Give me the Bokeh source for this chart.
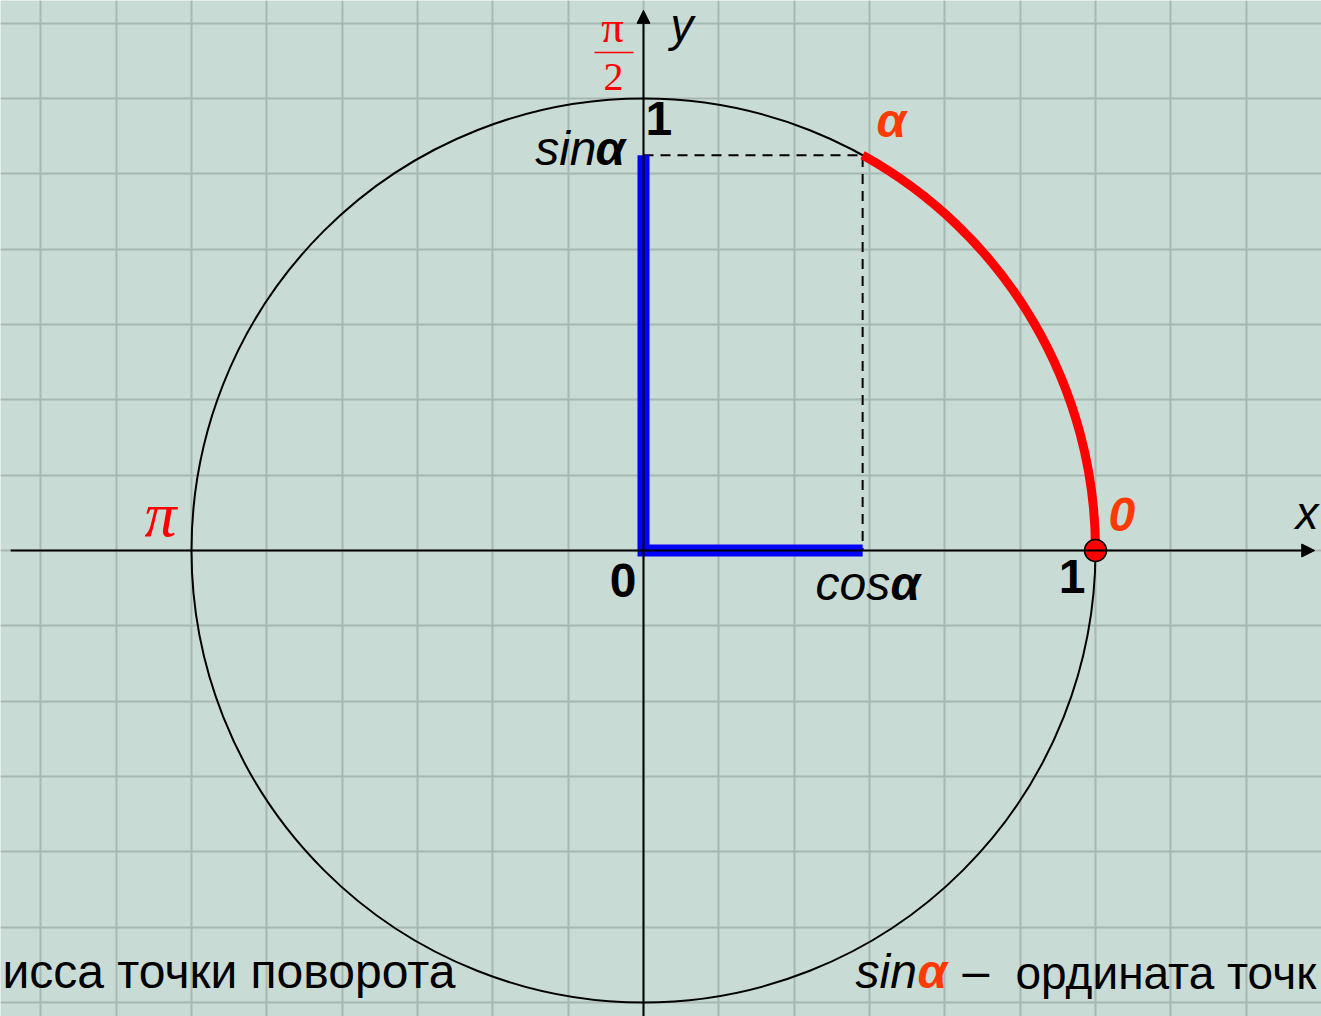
import numpy as np
from bokeh.plotting import figure
from bokeh.models import Range1d, Grid, FixedTicker, Arrow, NormalHead
from bokeh.core.properties import value
from bokeh.embed import file_html
from bokeh.resources import INLINE

# ---- data ----
ALPHA_DEG = 61.0          # angle of the rotation point
RADIUS = 1.0              # unit circle
GRID_STEP = 1 / 6         # grid cell in units of the radius
GRID_TICKS = [k * GRID_STEP for k in range(-9, 10)]
AXIS_X = [-1.400, 1.485]  # extent of the x axis (arrow at the right end)
AXIS_Y = [-1.10, 1.195]   # extent of the y axis (arrow at the top end)

alpha = np.deg2rad(ALPHA_DEG)
cos_a = RADIUS * np.cos(alpha)
sin_a = RADIUS * np.sin(alpha)

# ---- layout ----
W, H = 1321, 1016
PX = 452.0                # pixels per unit
OX, OY = 643, 550         # origin in figure pixels (from left / from top)

BG = "#c9dbd5"
GRID_COLOR = "#a7b8b3"
RED = "#ff0000"
ORANGE = "#ff3a00"
BLUE = "#0000ff"
SANS = "Liberation Sans"
SERIF = "Liberation Serif"

p = figure(width=W, height=H, output_backend="svg", toolbar_location=None,
           x_axis_type=None, y_axis_type=None,
           x_range=Range1d(-OX / PX, (W - OX) / PX),
           y_range=Range1d(-(H - OY) / PX, OY / PX),
           min_border=0, outline_line_color=None,
           background_fill_color=BG, border_fill_color=BG)

for dim in (0, 1):
    p.add_layout(Grid(dimension=dim, ticker=FixedTicker(ticks=GRID_TICKS),
                      grid_line_color=GRID_COLOR, grid_line_width=2))

# axes with arrows
p.add_layout(Arrow(x_start=AXIS_X[0], y_start=0, x_end=AXIS_X[1], y_end=0,
                   line_color="black", line_width=2,
                   end=NormalHead(size=13, fill_color="black", line_color="black")))
p.add_layout(Arrow(x_start=0, y_start=AXIS_Y[0], x_end=0, y_end=AXIS_Y[1],
                   line_color="black", line_width=2,
                   end=NormalHead(size=13, fill_color="black", line_color="black")))

# unit circle
p.circle(x=[0], y=[0], radius=RADIUS, fill_color=None, line_color="black", line_width=2)

# dashed projections
p.line(x=[0, cos_a, cos_a], y=[sin_a, sin_a, 0], line_color="black",
       line_width=2, line_dash="10 7")

# blue segments (cos and sin)
p.line(x=[0, 0, cos_a], y=[sin_a, 0, 0], line_color=BLUE, line_width=12,
       line_join="miter", line_cap="butt")

# red arc from 0 to alpha
p.arc(x=[0], y=[0], radius=RADIUS, start_angle=0, end_angle=alpha,
      line_color=RED, line_width=9)

# starting point
p.scatter(x=[RADIUS], y=[0], size=22, fill_color=RED, line_color="black", line_width=1.5)

MID = 0.346  # em distance from the alphabetic baseline to the text middle


def label(txt, rx, ry, size, style="normal", color="black", align="left", font=SANS):
    """rx, ry: pixel position of the baseline relative to the origin (right / up)."""
    p.text(x=[rx / PX], y=[(ry + MID * size) / PX], text=[txt], text_font=value(font),
           text_font_size=f"{size}px", text_font_style=style, text_color=color,
           text_align=align, text_baseline="middle")


# axis names
label("y", 27, 510, 46, "italic")
label("x", 652, 22, 46, "italic")

# pi/2 at top
label("π", -31, 508, 45, "normal", RED, "center", SERIF)
p.line(x=[-49 / PX, -10 / PX], y=[498 / PX, 498 / PX], line_color=RED, line_width=1.6)
label("2", -30, 460, 40, "normal", RED, "center", SERIF)

# pi on the left
label("π", -483, 14, 64, "italic", RED, "center", SERIF)

# numbers
label("1", 2, 415, 48, "bold")
label("0", -7, -47, 48, "bold", align="right")
label("1", 442, -43, 48, "bold", align="right")
label("0", 465, 19, 48, "bold italic", ORANGE)
label("α", 233, 413, 48, "bold italic", ORANGE)

# sin alpha / cos alpha
label("sin", -47, 385, 48, "italic", align="right")
label("α", -48, 385, 48, "bold italic")
label("cos", 172, -50, 48, "italic")
label("α", 247, -50, 48, "bold italic")

# bottom captions (cut by the slide edges as in the original)
label("исса точки поворота", -641, -438, 48, "normal")
label("sin", 212, -438, 48, "italic")
label("α", 274, -438, 48, "bold italic", ORANGE)
label("–", 319, -438, 48, "normal")
label("ордината точк", 372, -438, 46, "normal")

open("out.html", "w").write(file_html(p, INLINE))
